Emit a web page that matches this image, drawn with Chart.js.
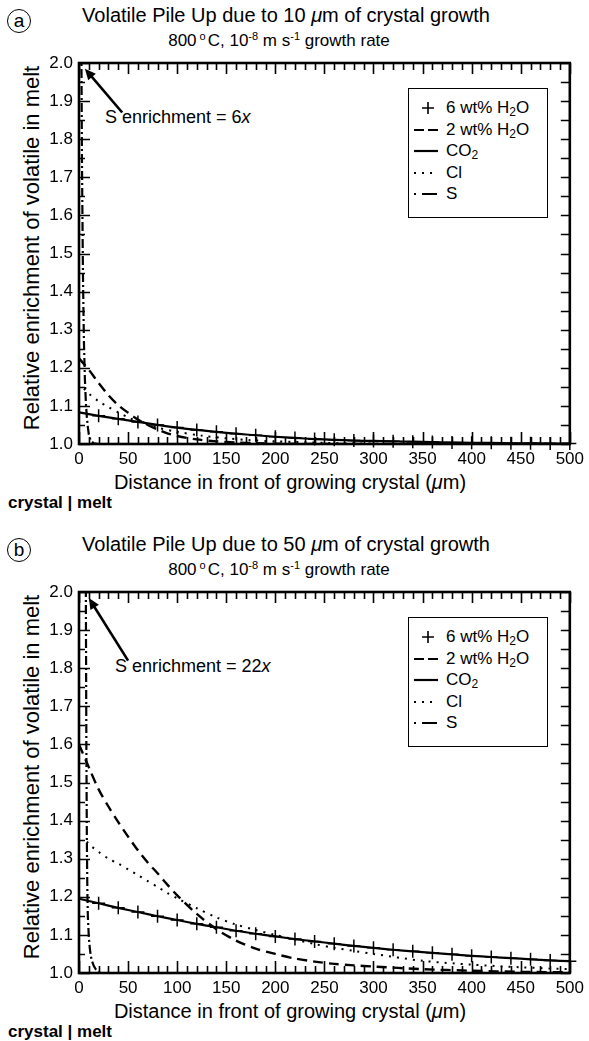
<!DOCTYPE html>
<html><head><meta charset="utf-8">
<script src="https://cdn.jsdelivr.net/npm/chart.js@4"></script>
<style>
body{margin:0;width:589px;height:1041px;background:#fff;position:relative;overflow:hidden;font-family:"Liberation Sans",Arial,Helvetica,sans-serif;color:#000}
.abs{position:absolute;white-space:nowrap;line-height:1}
canvas{position:absolute;left:0}
.ctr{transform:translate(-50%,-50%)}
.circ{position:absolute;width:22px;height:22px;border:1.3px solid #000;border-radius:50%;font-size:19px;line-height:21px;text-align:center;box-sizing:content-box}
.leg{position:absolute;width:140px;height:130px;border:1.5px solid #000;box-sizing:border-box;background:#fff}
.row{position:absolute;left:3px;height:20px;display:flex;align-items:center;font-size:17px;white-space:nowrap}
.row svg{width:30px;height:20px;margin-right:4px}
sub{font-size:12px;vertical-align:-3px;line-height:0}
sup{font-size:11px;vertical-align:6px;line-height:0}
</style></head><body>
<script>
// ---------- tick labels ----------
const xTickLabels = ['0','50','100','150','200','250','300','350','400','450','500'];
const yTickLabels = ['1.0','1.1','1.2','1.3','1.4','1.5','1.6','1.7','1.8','1.9','2.0'];

// ---------- panel (a): 10 um of crystal growth ----------
const aH2O6X = [20,40,60,80,100,120,140,160,180,200,220,240,260,280,300,320,340,360,380,400,420,440,460,480,500];
const aH2O6Y = [1.074,1.066,1.058,1.050,1.043,1.037,1.032,1.027,1.023,1.019,1.016,1.013,1.011,1.009,1.008,1.007,1.006,1.005,1.004,1.003,1.003,1.002,1.002,1.001,1.001];
const aH2O2X = [0,5,10,20,30,40,50,60,70,80,90,100,120,140,160,180,200,250,300,400,500];
const aH2O2Y = [1.225,1.21,1.195,1.160,1.128,1.102,1.082,1.064,1.050,1.038,1.028,1.021,1.012,1.007,1.004,1.002,1.001,1.0,1.0,1.0,1.0];
const aCO2X = [0,20,40,60,80,100,120,140,160,180,200,220,240,260,280,300,320,340,360,380,400,420,440,460,480,500];
const aCO2Y = [1.083,1.074,1.066,1.058,1.050,1.043,1.037,1.032,1.027,1.023,1.019,1.016,1.013,1.011,1.009,1.008,1.007,1.006,1.005,1.004,1.003,1.003,1.002,1.002,1.001,1.001];
const aClX = [5,10,20,30,40,50,60,80,100,125,150,175,200,250,300,350,400,500];
const aClY = [1.145,1.132,1.112,1.097,1.083,1.070,1.059,1.043,1.032,1.022,1.015,1.010,1.007,1.003,1.001,1.0,1.0,1.0];
const aSX = [0,2.5,3,4,5,6,7,8,9,10,12,15,20,500];
const aSY = [6.0,2.0,1.75,1.45,1.27,1.17,1.11,1.07,1.045,1.025,1.008,1.002,1.0,1.0];

// ---------- panel (b): 50 um of crystal growth ----------
const bH2O6X = [20,40,60,80,100,120,140,160,180,200,220,240,260,280,300,320,340,360,380,400,420,440,460,480,500];
const bH2O6Y = [1.183,1.171,1.160,1.149,1.139,1.129,1.120,1.111,1.103,1.096,1.089,1.083,1.077,1.071,1.066,1.061,1.057,1.053,1.049,1.045,1.042,1.039,1.036,1.033,1.031];
const bH2O2X = [0,10,20,30,40,50,60,70,80,90,100,120,140,160,180,200,220,240,260,280,300,350,400,450,500];
const bH2O2Y = [1.60,1.54,1.482,1.437,1.396,1.358,1.322,1.290,1.262,1.232,1.204,1.155,1.115,1.085,1.064,1.050,1.038,1.030,1.024,1.020,1.017,1.010,1.006,1.003,1.002];
const bCO2X = [0,20,40,60,80,100,120,140,160,180,200,220,240,260,280,300,320,340,360,380,400,420,440,460,480,500];
const bCO2Y = [1.195,1.183,1.171,1.160,1.149,1.139,1.129,1.120,1.111,1.103,1.096,1.089,1.083,1.077,1.071,1.066,1.061,1.057,1.053,1.049,1.045,1.042,1.039,1.036,1.033,1.031];
const bClX = [8,10,20,30,40,50,60,70,80,90,100,120,140,160,180,200,220,240,260,280,300,350,400,450,500];
const bClY = [1.345,1.338,1.318,1.300,1.287,1.272,1.257,1.241,1.226,1.210,1.196,1.170,1.146,1.127,1.113,1.100,1.088,1.076,1.066,1.058,1.050,1.032,1.022,1.015,1.010];
const bSX = [0,7,7.5,8,8.5,9,10,11,12,13,15,17,19,22,500];
const bSY = [22.0,1.98,1.6,1.35,1.22,1.15,1.095,1.065,1.045,1.033,1.019,1.010,1.004,1.0,1.0];

// annotation arrows (data coordinates: [distance, enrichment])
const aArrowFrom = [44, 1.87], aArrowTo = [6, 1.985];
const bArrowFrom = [50, 1.82], bArrowTo = [10, 1.984];

const FONT = '"Liberation Sans", Arial, Helvetica, sans-serif';
const pts = (xs, ys) => xs.map((x, i) => ({x, y: ys[i]}));

const frameTicks = {
  id: 'frameTicks',
  afterDatasetsDraw(chart, args, opts) {
    const {ctx, chartArea: {left, right, top, bottom}, scales: {x, y}} = chart;
    ctx.save();
    ctx.strokeStyle = '#000';
    ctx.lineWidth = 1.6;
    ctx.beginPath();
    for (let v = 0; v <= 500; v += 10) {
      const px = Math.round(x.getPixelForValue(v)) + 0.5;
      const major = v % 50 === 0;
      ctx.moveTo(px, bottom); ctx.lineTo(px, bottom - (major ? 12 : 7));
      ctx.moveTo(px, top); ctx.lineTo(px, top + (major ? 11 : 7));
    }
    for (let k = 0; k <= 20; k++) {
      const py = Math.round(y.getPixelForValue(1 + k * 0.05)) + 0.5;
      const major = k % 2 === 0;
      ctx.moveTo(left, py); ctx.lineTo(left + (major ? 11 : 6), py);
      ctx.moveTo(right, py); ctx.lineTo(right - 9, py);
    }
    ctx.stroke();
    ctx.lineWidth = 2.6;
    ctx.strokeRect(left, top, right - left, bottom - top);
    // arrow
    const x0 = x.getPixelForValue(opts.from[0]), y0 = y.getPixelForValue(opts.from[1]);
    const x1 = x.getPixelForValue(opts.to[0]), y1 = y.getPixelForValue(opts.to[1]);
    const ang = Math.atan2(y1 - y0, x1 - x0);
    const hl = 11, hw = 5;
    ctx.lineWidth = 2.6;
    ctx.beginPath();
    ctx.moveTo(x0, y0);
    ctx.lineTo(x1 - Math.cos(ang) * hl * 0.8, y1 - Math.sin(ang) * hl * 0.8);
    ctx.stroke();
    ctx.beginPath();
    ctx.moveTo(x1, y1);
    ctx.lineTo(x1 - Math.cos(ang) * hl - Math.sin(ang) * hw, y1 - Math.sin(ang) * hl + Math.cos(ang) * hw);
    ctx.lineTo(x1 - Math.cos(ang) * hl + Math.sin(ang) * hw, y1 - Math.sin(ang) * hl - Math.cos(ang) * hw);
    ctx.closePath();
    ctx.fillStyle = '#000';
    ctx.fill();
    ctx.restore();
  }
};

function addEl(html, style, cls) {
  const d = document.createElement('div');
  d.className = cls || 'abs';
  d.setAttribute('style', style);
  d.innerHTML = html;
  document.body.appendChild(d);
  return d;
}

function legendHTML() {
  const rows = [
    ['<path d="M10 10h12M16 4v12" stroke="#000" stroke-width="1.6" fill="none"/>', '6 wt% H<sub>2</sub>O'],
    ['<path d="M2 10h10M16 10h10" stroke="#000" stroke-width="2.2" fill="none"/>', '2 wt% H<sub>2</sub>O'],
    ['<path d="M2 10h24" stroke="#000" stroke-width="2.2" fill="none"/>', 'CO<sub>2</sub>'],
    ['<path d="M2 10h2M10 10h2M18 10h2" stroke="#000" stroke-width="2" fill="none"/>', 'Cl'],
    ['<path d="M2 10h2M10 10h15" stroke="#000" stroke-width="2.2" fill="none"/>', 'S']
  ];
  const centers = [20, 42, 63, 85, 106];
  return rows.map((r, i) => `<div class="row" style="top:${centers[i] - 11.5}px"><svg viewBox="0 0 30 20">${r[0]}</svg><span>${r[1]}</span></div>`).join('');
}

function buildPanel(off, letter, growth, mult, series, arrow, annLeft, annTop) {
  // panel letter
  addEl(letter, `left:7px;top:${off + 9}px`, 'circ');
  addEl(`Volatile Pile Up due to ${growth} <i>μ</i>m of crystal growth`,
        `left:286px;top:${off + 15}px;font-size:20px`, 'abs ctr');
  addEl(`800<sup style="margin:0 2px 0 3px">o</sup>C, 10<sup>-8</sup> m s<sup>-1</sup> growth rate`,
        `left:279px;top:${off + 40}px;font-size:17px`, 'abs ctr');
  addEl('Relative enrichment of volatile in melt',
        `left:32px;top:${off + 248}px;font-size:22px;transform:translate(-50%,-50%) rotate(-90deg)`, 'abs');
  addEl('Distance in front of growing crystal (<i>μ</i>m)',
        `left:290px;top:${off + 482}px;font-size:20px`, 'abs ctr');
  addEl('crystal | melt', `left:8px;top:${off + 494}px;font-size:17px;font-weight:bold`, 'abs');
  addEl(`S enrichment = ${mult}<i>x</i>`, `left:${annLeft}px;top:${off + annTop}px;font-size:18px`, 'abs');

  const cv = document.createElement('canvas');
  cv.width = 589; cv.height = 476;
  cv.style.top = off + 'px';
  document.body.appendChild(cv);
  document.body.appendChild(addEl(legendHTML(), `left:408px;top:${off + 88}px`, 'leg'));

  new Chart(cv, {
    type: 'line',
    data: {
      datasets: [
        {label: '6 wt% H2O', data: pts(series[0][0], series[0][1]), showLine: false,
         pointStyle: 'cross', pointRadius: 6.5, pointBorderWidth: 1.5, borderColor: '#000', backgroundColor: '#000', clip: false},
        {label: '2 wt% H2O', data: pts(series[1][0], series[1][1]), borderColor: '#000', borderWidth: 2.4,
         borderDash: [10, 6], pointRadius: 0, tension: 0.3},
        {label: 'CO2', data: pts(series[2][0], series[2][1]), borderColor: '#000', borderWidth: 2.2,
         pointRadius: 0, tension: 0.3},
        {label: 'Cl', data: pts(series[3][0], series[3][1]), borderColor: '#000', borderWidth: 2,
         borderDash: [2, 6], pointRadius: 0, tension: 0.3},
        {label: 'S', data: pts(series[4][0], series[4][1]), borderColor: '#000', borderWidth: 2.2,
         borderDash: [9, 3, 2, 3], pointRadius: 0, tension: 0}
      ]
    },
    options: {
      responsive: false, animation: false, devicePixelRatio: 1,
      layout: {padding: {top: 63, right: 17, left: 0, bottom: 0}},
      plugins: {legend: {display: false}, title: {display: false}, tooltip: {enabled: false},
                frameTicks: {from: arrow[0], to: arrow[1]}},
      scales: {
        x: {type: 'linear', min: 0, max: 500,
            grid: {display: false, drawTicks: false}, border: {display: false},
            afterFit: s => { s.height = 32; },
            ticks: {stepSize: 50, autoSkip: false, maxRotation: 0, padding: 5, color: '#000',
                    font: {family: FONT, size: 17},
                    callback: v => xTickLabels[Math.round(v / 50)]}},
        y: {type: 'linear', min: 1.0, max: 2.0,
            grid: {display: false, drawTicks: false}, border: {display: false},
            afterFit: s => { s.width = 79; },
            ticks: {stepSize: 0.1, autoSkip: false, padding: 6, color: '#000',
                    font: {family: FONT, size: 17},
                    callback: v => yTickLabels[Math.round((v - 1) * 10)]}}
      }
    },
    plugins: [frameTicks]
  });
}

buildPanel(0, 'a', 10, 6,
  [[aH2O6X, aH2O6Y], [aH2O2X, aH2O2Y], [aCO2X, aCO2Y], [aClX, aClY], [aSX, aSY]],
  [aArrowFrom, aArrowTo], 105, 108);
buildPanel(529, 'b', 50, 22,
  [[bH2O6X, bH2O6Y], [bH2O2X, bH2O2Y], [bCO2X, bCO2Y], [bClX, bClY], [bSX, bSY]],
  [bArrowFrom, bArrowTo], 115, 128);
</script>
</body></html>
